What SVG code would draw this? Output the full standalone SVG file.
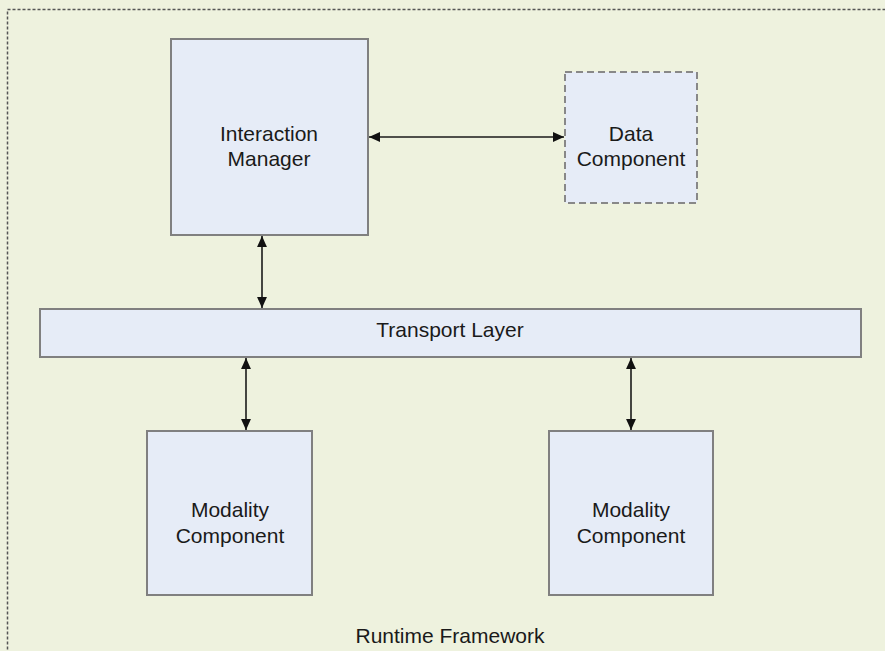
<svg xmlns="http://www.w3.org/2000/svg" width="885" height="651" viewBox="0 0 885 651">
<style>
.frame{fill:#EEF2DE;stroke:#555;stroke-width:1.5;stroke-dasharray:3 2}
.box{fill:#E6ECF7;stroke:#808080;stroke-width:2}
.dbox{fill:#E6ECF7;stroke:#888;stroke-width:2;stroke-dasharray:7 4}
.lbl{font-family:"Liberation Sans",Arial,sans-serif;font-size:21px;fill:#1a1a1a;text-anchor:middle}
.conn{stroke:#1a1a1a;stroke-width:1.6;fill:none;marker-start:url(#ah);marker-end:url(#ah)}
</style>
<defs>
<marker id="ah" viewBox="0 0 10 10" refX="10" refY="5" markerWidth="11" markerHeight="11" markerUnits="userSpaceOnUse" orient="auto-start-reverse">
<path d="M0,0.5 L10,5 L0,9.5 Z" fill="#111"/>
</marker>
</defs>
<rect width="885" height="651" fill="#EEF2DE"/>
<g id="runtime-framework">
<rect class="frame" x="7.5" y="9.5" width="900" height="660"/>
<text class="lbl" x="450" y="643">Runtime Framework</text>
</g>
<g id="interaction-manager">
<rect class="box" x="171" y="39" width="197" height="196"/>
<text class="lbl" x="269" y="141">Interaction</text>
<text class="lbl" x="269" y="166">Manager</text>
</g>
<g id="data-component">
<rect class="dbox" x="565" y="72" width="132" height="131"/>
<text class="lbl" x="631" y="141">Data</text>
<text class="lbl" x="631" y="166">Component</text>
</g>
<g id="transport-layer">
<rect class="box" x="40" y="309" width="821" height="48"/>
<text class="lbl" x="450" y="337">Transport Layer</text>
</g>
<g id="modality-left">
<rect class="box" x="147" y="431" width="165" height="164"/>
<text class="lbl" x="230" y="517">Modality</text>
<text class="lbl" x="230" y="543">Component</text>
</g>
<g id="modality-right">
<rect class="box" x="549" y="431" width="164" height="164"/>
<text class="lbl" x="631" y="517">Modality</text>
<text class="lbl" x="631" y="543">Component</text>
</g>
<g id="connectors">
<line class="conn" x1="369" y1="137" x2="564" y2="137"/>
<line class="conn" x1="262" y1="236" x2="262" y2="308"/>
<line class="conn" x1="246" y1="358" x2="246" y2="430"/>
<line class="conn" x1="631" y1="358" x2="631" y2="430"/>
</g>
</svg>
